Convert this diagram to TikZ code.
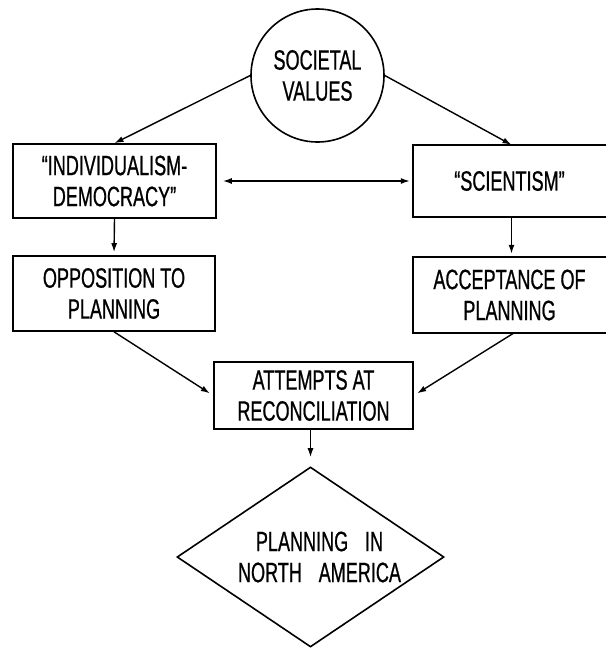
\documentclass[tikz,border=0pt]{standalone}
\usepackage{fontspec}
\setmainfont[FakeStretch=0.645,FakeBold=0.7]{Liberation Sans}
\usetikzlibrary{arrows.meta,shapes.geometric}
\begin{document}
\begin{tikzpicture}[x=1pt,y=-1pt,
  every node/.style={font=\fontsize{28}{31}\selectfont, align=center, inner sep=0pt},
  box/.style={draw, line width=1.6pt, rectangle},
  openbox/.style={rectangle},
  edge/.style={line width=1.6pt},
  conn/.style={line width=1.4pt, -{Latex[length=9pt,width=6pt]}}]
\useasboundingbox (0,0) rectangle (606,648);
\node[draw, circle, line width=1.6pt, minimum size=133pt] (sv) at (317.5,75.5) {SOCIETAL\\VALUES};
\node[box, minimum width=203pt, minimum height=74pt] (b1l) at (114.5,181) {“INDIVIDUALISM-\\DEMOCRACY”};
\node[openbox, minimum width=193pt, minimum height=72pt] (b1r) at (509.5,181) {“SCIENTISM”};
\node[box, minimum width=202pt, minimum height=75pt] (b2l) at (114,293.5) {OPPOSITION TO\\PLANNING};
\node[openbox, minimum width=193pt, minimum height=76pt] (b2r) at (509.5,295) {ACCEPTANCE OF\\PLANNING};
\node[box, minimum width=199pt, minimum height=67pt] (att) at (313.5,395.5) {ATTEMPTS AT\\RECONCILIATION};
\node[draw, diamond, line width=1.6pt, aspect=1.48, minimum width=267pt, minimum height=180pt] (dia) at (310.5,557) {\hspace*{18pt}PLANNING\hspace{0.6em}IN\\\hspace*{18pt}NORTH\hspace{0.6em}AMERICA};
\draw[edge] (b1r.north east) -- (b1r.north west) -- (b1r.south west) -- (b1r.south east);
\draw[edge] (b2r.north east) -- (b2r.north west) -- (b2r.south west) -- (b2r.south east);
\draw[conn] (sv.west) -- (b1l.north);
\draw[conn] (sv.east) -- ([xshift=2pt]b1r.north);
\draw[line width=1.4pt, {Latex[length=9pt,width=6pt]}-{Latex[length=9pt,width=6pt]}, shorten <=6pt, shorten >=3pt] (b1l.east) -- (b1r.west);
\draw[conn, shorten >=3pt] (b1l.south) -- (b2l.north);
\draw[conn, shorten >=3pt] ([xshift=2pt]b1r.south) -- ([xshift=2pt]b2r.north);
\draw[conn, shorten >=4pt] (b2l.south) -- (att.west);
\draw[conn, shorten >=4pt] ([xshift=4pt]b2r.south) -- (att.east);
\draw[conn, shorten >=9pt] (att.south -| dia.north) -- (dia.north);
\end{tikzpicture}
\end{document}
